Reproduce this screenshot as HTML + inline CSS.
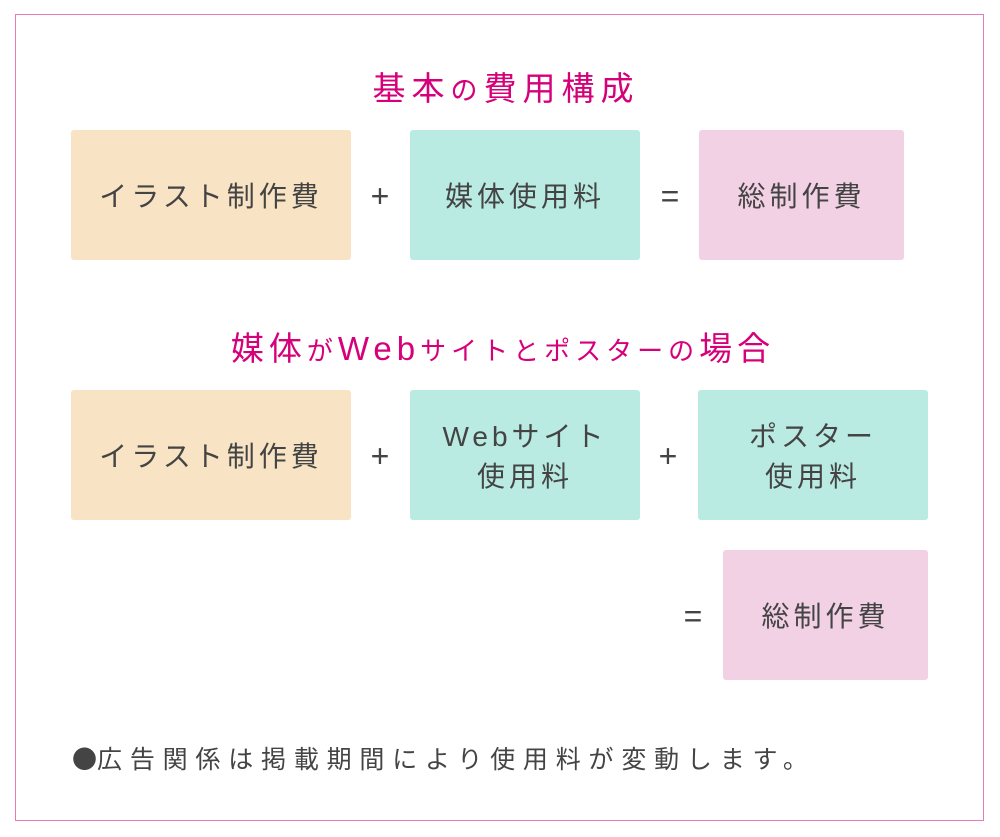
<!DOCTYPE html>
<html><head><meta charset="utf-8"><style>
body{margin:0;width:1000px;height:837px;background:#fff;position:relative;font-family:"Liberation Sans","Noto Sans CJK JP",sans-serif;overflow:hidden}
.frame{position:absolute;left:15px;top:14px;width:969px;height:807px;border:1.5px solid #e97ab8;box-sizing:border-box}
.t{position:absolute;color:#d6007a;font-size:33px;white-space:nowrap;text-align:center;font-weight:400}
.b{position:absolute;display:flex;align-items:center;justify-content:center;text-align:center;color:#444;font-size:28px;letter-spacing:4px;line-height:40px;border-radius:3px;padding-top:4px;box-sizing:border-box}
.o{background:#f8e4c4}.g{background:#b9ebe2}.p{background:#f3d1e5}
.s{position:absolute;color:#444;font-size:32px;width:40px;text-align:center;line-height:30px;font-weight:300}
.n{position:absolute;left:72px;top:740px;font-size:25px;color:#444;letter-spacing:7.8px;white-space:nowrap}
</style></head><body>
<div class="frame"></div>
<div class="t" style="left:0;width:1012px;top:62px;letter-spacing:6px">基本<span style="font-size:27px">の</span>費用構成</div>
<div class="b o" style="left:71px;top:130px;width:280px;height:130px">イラスト制作費</div>
<div class="s" style="left:360px;top:181px">+</div>
<div class="g b" style="left:410px;top:130px;width:230px;height:130px">媒体使用料</div>
<div class="s" style="left:650px;top:181px">=</div>
<div class="p b" style="left:699px;top:130px;width:205px;height:130px">総制作費</div>
<div class="t" style="left:0;width:1006px;top:322px;letter-spacing:5px">媒体<span style="font-size:26px">が</span>Web<span style="font-size:26px">サイトとポスターの</span>場合</div>
<div class="b o" style="left:71px;top:390px;width:280px;height:130px">イラスト制作費</div>
<div class="s" style="left:360px;top:441px">+</div>
<div class="g b" style="left:410px;top:390px;width:230px;height:130px">Webサイト<br>使用料</div>
<div class="s" style="left:648px;top:441px">+</div>
<div class="g b" style="left:698px;top:390px;width:230px;height:130px">ポスター<br>使用料</div>
<div class="s" style="left:673px;top:601px">=</div>
<div class="p b" style="left:723px;top:550px;width:205px;height:130px">総制作費</div>
<div class="n"><span style="font-family:'Noto Sans CJK JP',sans-serif;letter-spacing:0">●</span>広告関係は掲載期間により使用料が変動します。</div>
</body></html>
